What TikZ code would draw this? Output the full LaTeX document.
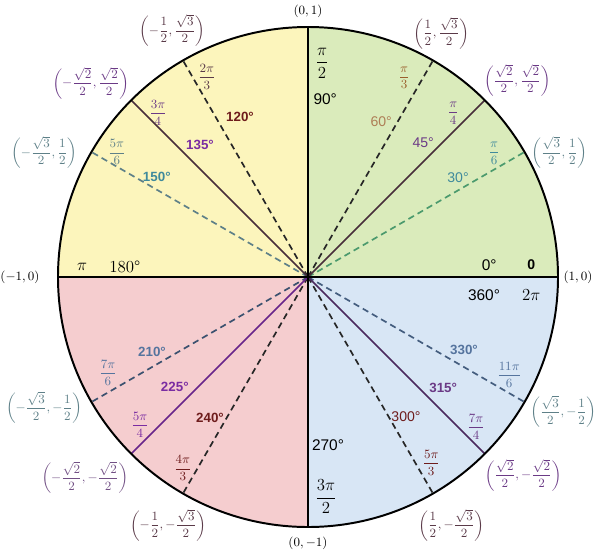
\documentclass[tikz,border=0pt]{standalone}
\usepackage{fontspec}
\setsansfont{Liberation Sans}
\usepackage{amsmath}

\definecolor{quadI}{HTML}{DAEBBB}
\definecolor{quadII}{HTML}{FCF5BC}
\definecolor{quadIII}{HTML}{F5CDCF}
\definecolor{quadIV}{HTML}{D8E6F5}
\definecolor{tealc}{HTML}{3F8A9C}
\definecolor{greyteal}{HTML}{5E8088}
\definecolor{slatec}{HTML}{55749E}
\definecolor{brownc}{HTML}{9A5E2C}
\definecolor{plumc}{HTML}{6B3A86}
\definecolor{violetc}{HTML}{7A2CA2}
\definecolor{darkredc}{HTML}{6E1C1C}
\definecolor{mudc}{HTML}{5A3A48}

\newcommand{\cpair}[2]{$\left(#1,#2\right)$}

\begin{document}
\begin{tikzpicture}[>=stealth,
    axisline/.style={black, line width=1.3pt},
    rimline/.style={black, line width=1.4pt},
    dashline/.style={line width=1.2pt, dash pattern=on 4.5pt off 3pt},
    diagline/.style={line width=1.2pt},
    coordlbl/.style={font=\fontsize{9.5}{11}\selectfont, inner sep=1pt},
    radlbl/.style={font=\fontsize{9.5}{11}\selectfont, inner sep=1pt},
    deglbl/.style={font=\sffamily\bfseries\fontsize{9.5}{11}\selectfont, inner sep=1pt},
    biglbl/.style={font=\fontsize{12}{14}\selectfont, inner sep=1pt}]
    \useasboundingbox (-7.7,-6.95) rectangle (7.2,6.925);

    \def\R{6.25}

    \coordinate (O) at (0,0);
    \foreach \a in {0,30,...,330} \coordinate (P\a) at (\a:\R);
    \coordinate (P45) at (45:\R);
    \coordinate (P135) at (135:\R);
    \coordinate (P225) at (225:\R);
    \coordinate (P315) at (315:\R);

    \fill[quadI] (O) -- (P0) arc[start angle=0, end angle=90, radius=\R] -- cycle;
    \fill[quadII] (O) -- (P90) arc[start angle=90, end angle=180, radius=\R] -- cycle;
    \fill[quadIII] (O) -- (P180) arc[start angle=180, end angle=270, radius=\R] -- cycle;
    \fill[quadIV] (O) -- (P270) arc[start angle=270, end angle=360, radius=\R] -- cycle;

    \draw[dashline, greyteal!80!green] (O) -- (P30);
    \draw[dashline, black!85] (O) -- (P60);
    \draw[dashline, black!85] (O) -- (P120);
    \draw[dashline, greyteal] (O) -- (P150);
    \draw[dashline, slatec!70!black] (O) -- (P210);
    \draw[dashline, black!85] (O) -- (P240);
    \draw[dashline, black!85] (O) -- (P300);
    \draw[dashline, slatec!80!black] (O) -- (P330);

    \draw[diagline, mudc!80!black] (O) -- (P45);
    \draw[diagline, mudc!80!black] (O) -- (P135);
    \draw[diagline, violetc!85!black] (O) -- (P225);
    \draw[diagline, plumc!70!black] (O) -- (P315);

    \draw[axisline] (P180) -- (P0);
    \draw[axisline] (P270) -- (P90);
    \draw[rimline] (O) circle[radius=\R];

    % axis points
    \node[coordlbl] (c0) at (6.75,0) {$(1,0)$};
    \node[coordlbl] (c90) at (0,6.63) {$(0,1)$};
    \node[coordlbl] (c180) at (-7.2,0) {$(-1,0)$};
    \node[coordlbl] (c270) at (0,-6.65) {$(0,-1)$};

    % first quadrant
    \node[biglbl] (r90) at (0.35,5.35) {$\dfrac{\pi}{2}$};
    \node[font=\sffamily\fontsize{11}{13}\selectfont] (d90) at (0.43,4.45) {90°};
    \node[radlbl, brownc] (r60) at (2.4,4.98) {$\dfrac{\pi}{3}$};
    \node[deglbl, brownc!80, font=\sffamily\fontsize{10}{12}\selectfont] (d60) at (1.83,3.88) {60°};
    \node[radlbl, plumc] (r45) at (3.63,4.1) {$\dfrac{\pi}{4}$};
    \node[plumc, font=\sffamily\fontsize{10}{12}\selectfont] (d45) at (2.88,3.35) {45°};
    \node[radlbl, tealc] (r30) at (4.65,3.1) {$\dfrac{\pi}{6}$};
    \node[tealc, font=\sffamily\fontsize{10}{12}\selectfont] (d30) at (3.75,2.48) {30°};
    \node[font=\sffamily\fontsize{11}{13}\selectfont] (d0) at (4.53,0.3) {0°};
    \node[font=\sffamily\bfseries\fontsize{10}{12}\selectfont] (r0) at (5.58,0.3) {0};
    \node[coordlbl, mudc] (c60) at (3.33,6.1) {\cpair{\dfrac{1}{2}}{\dfrac{\sqrt{3}}{2}}};
    \node[coordlbl, plumc] (c45) at (5.23,4.92) {\cpair{\dfrac{\sqrt{2}}{2}}{\dfrac{\sqrt{2}}{2}}};
    \node[coordlbl, greyteal] (c30) at (6.28,3.12) {\cpair{\dfrac{\sqrt{3}}{2}}{\dfrac{1}{2}}};

    % second quadrant
    \node[radlbl, mudc] (r120) at (-2.53,5.0) {$\dfrac{2\pi}{3}$};
    \node[deglbl, darkredc] (d120) at (-1.7,4.0) {120°};
    \node[radlbl, plumc] (r135) at (-3.75,4.1) {$\dfrac{3\pi}{4}$};
    \node[deglbl, violetc] (d135) at (-2.7,3.3) {135°};
    \node[radlbl, greyteal] (r150) at (-4.78,3.12) {$\dfrac{5\pi}{6}$};
    \node[deglbl, tealc] (d150) at (-3.78,2.5) {150°};
    \node[font=\fontsize{12}{14}\selectfont] (r180) at (-5.65,0.25) {$\pi$};
    \node[font=\fontsize{12}{14}\selectfont] (d180) at (-4.58,0.25) {180°};
    \node[coordlbl, mudc] (c120) at (-3.4,6.17) {\cpair{-\dfrac{1}{2}}{\dfrac{\sqrt{3}}{2}}};
    \node[coordlbl, plumc] (c135) at (-5.43,4.85) {\cpair{-\dfrac{\sqrt{2}}{2}}{\dfrac{\sqrt{2}}{2}}};
    \node[coordlbl, greyteal] (c150) at (-6.6,3.12) {\cpair{-\dfrac{\sqrt{3}}{2}}{\dfrac{1}{2}}};

    % third quadrant
    \node[deglbl, slatec] (d210) at (-3.9,-1.88) {210°};
    \node[radlbl, slatec] (r210) at (-5.0,-2.4) {$\dfrac{7\pi}{6}$};
    \node[deglbl, violetc] (d225) at (-3.33,-2.75) {225°};
    \node[radlbl, violetc] (r225) at (-4.2,-3.7) {$\dfrac{5\pi}{4}$};
    \node[deglbl, darkredc] (d240) at (-2.45,-3.53) {240°};
    \node[radlbl, darkredc] (r240) at (-3.13,-4.78) {$\dfrac{4\pi}{3}$};
    \node[font=\sffamily\fontsize{11}{13}\selectfont] (d270) at (0.5,-4.2) {270°};
    \node[biglbl] (r270) at (0.45,-5.5) {$\dfrac{3\pi}{2}$};
    \node[coordlbl, greyteal] (c210) at (-6.6,-3.27) {\cpair{-\dfrac{\sqrt{3}}{2}}{-\dfrac{1}{2}}};
    \node[coordlbl, plumc!70!gray] (c225) at (-5.58,-5.02) {\cpair{-\dfrac{\sqrt{2}}{2}}{-\dfrac{\sqrt{2}}{2}}};
    \node[coordlbl, mudc] (c240) at (-3.5,-6.2) {\cpair{-\dfrac{1}{2}}{-\dfrac{\sqrt{3}}{2}}};

    % fourth quadrant
    \node[font=\sffamily\fontsize{11}{13}\selectfont] (d360) at (4.4,-0.45) {360°};
    \node[font=\fontsize{12}{14}\selectfont] (r360) at (5.58,-0.45) {$2\pi$};
    \node[deglbl, slatec] (d330) at (3.9,-1.83) {330°};
    \node[radlbl, slatec] (r330) at (5.03,-2.45) {$\dfrac{11\pi}{6}$};
    \node[deglbl, plumc] (d315) at (3.38,-2.78) {315°};
    \node[radlbl, plumc] (r315) at (4.2,-3.75) {$\dfrac{7\pi}{4}$};
    \node[deglbl, darkredc, font=\sffamily\fontsize{10}{12}\selectfont] (d300) at (2.45,-3.5) {300°};
    \node[radlbl, darkredc] (r300) at (3.08,-4.65) {$\dfrac{5\pi}{3}$};
    \node[coordlbl, greyteal] (c330) at (6.38,-3.37) {\cpair{\dfrac{\sqrt{3}}{2}}{-\dfrac{1}{2}}};
    \node[coordlbl, plumc] (c315) at (5.38,-4.95) {\cpair{\dfrac{\sqrt{2}}{2}}{-\dfrac{\sqrt{2}}{2}}};
    \node[coordlbl, mudc] (c300) at (3.58,-6.2) {\cpair{\dfrac{1}{2}}{-\dfrac{\sqrt{3}}{2}}};
\end{tikzpicture}
\end{document}
